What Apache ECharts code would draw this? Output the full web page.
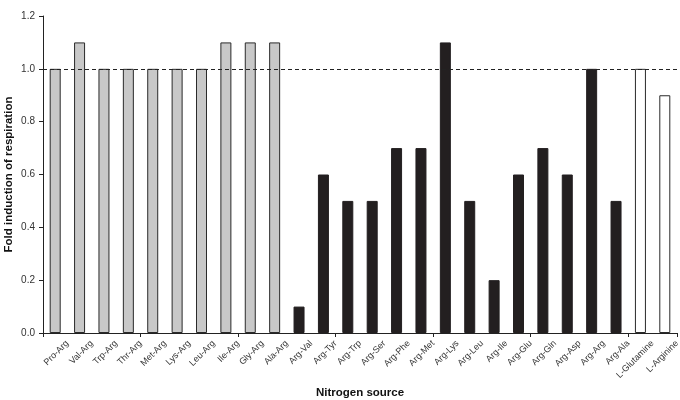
<!DOCTYPE html>
<html><head><meta charset="utf-8">
<script src="https://cdn.jsdelivr.net/npm/echarts@6/dist/echarts.min.js"></script>
<style>html,body{margin:0;padding:0;background:#fff}#c{width:680px;height:400px}</style>
</head><body><div id="c"></div>
<script>
const categories = ["Pro-Arg","Val-Arg","Trp-Arg","Thr-Arg","Met-Arg","Lys-Arg","Leu-Arg","Ile-Arg","Gly-Arg","Ala-Arg",
 "Arg-Val","Arg-Tyr","Arg-Trp","Arg-Ser","Arg-Phe","Arg-Met","Arg-Lys","Arg-Leu","Arg-Ile","Arg-Glu","Arg-Gln","Arg-Asp","Arg-Arg","Arg-Ala",
 "L-Glutamine","L-Arginine"];
const values = [1.0,1.1,1.0,1.0,1.0,1.0,1.0,1.1,1.1,1.1,
 0.1,0.6,0.5,0.5,0.7,0.7,1.1,0.5,0.2,0.6,0.7,0.6,1.0,0.5,
 1.0,0.9];
const groups = ["g","g","g","g","g","g","g","g","g","g",
 "b","b","b","b","b","b","b","b","b","b","b","b","b","b",
 "w","w"];
const yTicks = [0,0.2,0.4,0.6,0.8,1.0,1.2];
const refLine = 1.0;

const styles = {
  g: {color:'#c8c8c8', borderColor:'#2a2a2a', borderWidth:1},
  b: {color:'#231f20', borderColor:'#231f20', borderWidth:1},
  w: {color:'#ffffff', borderColor:'#2a2a2a', borderWidth:1}
};
const data = values.map((v,i)=>({value:v, itemStyle:styles[groups[i]]}));
const FONT = 'Liberation Sans, Arial, sans-serif';

const chart = echarts.init(document.getElementById('c'), null, {renderer:'canvas'});
chart.setOption({
  animation:false,
  grid:{left:43, right:3, top:16, bottom:67, containLabel:false, outerBoundsMode:'none'},
  xAxis:[{type:'category', data:categories,
    axisLine:{lineStyle:{color:'#222', width:1}},
    axisTick:{show:true, alignWithLabel:false, length:4, lineStyle:{color:'#222'}},
    axisLabel:{show:false},
    name:'Nitrogen source', nameLocation:'middle', nameGap:54,
    nameTextStyle:{fontWeight:'bold', fontSize:11.5, color:'#111', fontFamily:FONT}
  },{
    type:'value', position:'bottom', min:0, max:categories.length, interval:1,
    axisLine:{show:false}, axisTick:{show:false}, splitLine:{show:false},
    axisLabel:{rotate:45, fontSize:9, color:'#333', fontFamily:FONT, margin:9,
      showMinLabel:false, showMaxLabel:true,
      formatter:v=> (v>=1 ? categories[Math.round(v)-1] : '')}
  }],
  yAxis:{type:'value', min:0, max:1.2, interval:0.2,
    axisLine:{show:true, lineStyle:{color:'#222', width:1}},
    axisTick:{show:true, length:4, lineStyle:{color:'#222'}},
    splitLine:{show:false},
    axisLabel:{fontSize:10, color:'#333', fontFamily:FONT, margin:8,
      formatter:v=>v.toFixed(1)},
    name:'Fold induction of respiration', nameLocation:'middle', nameGap:28,
    nameMoveOverlap:false,
    nameTextStyle:{fontWeight:'bold', fontSize:11.5, color:'#111', fontFamily:FONT}
  },
  series:[{type:'bar', xAxisIndex:0, data:data, barWidth:11,
    markLine:{silent:true, symbol:['none','none'], label:{show:false},
      lineStyle:{type:[4,3], color:'#222', width:1},
      data:[{yAxis:refLine}]}
  }]
});
</script></body></html>
